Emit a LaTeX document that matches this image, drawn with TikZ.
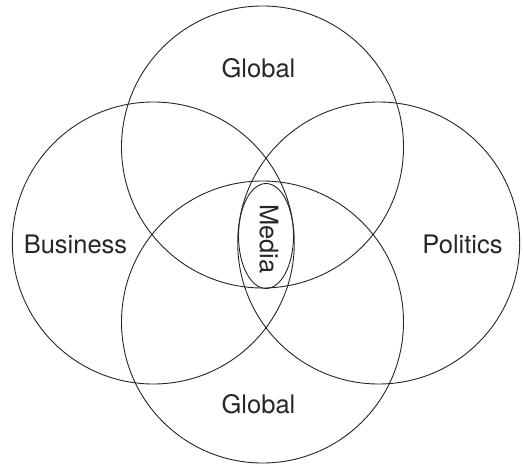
\documentclass[tikz,border=0pt]{standalone}
\usepackage{fontspec}
\setmainfont{TeX Gyre Heros}
\begin{document}
\begin{tikzpicture}[x=1pt,y=-1pt,
  ring/.style={draw=black!85,line width=0.9pt},
  lbl/.style={font=\fontsize{25.5}{28}\selectfont,text=black!85,inner sep=0pt}]
\useasboundingbox (0,0) rectangle (524,465);
\draw[ring] (262.5,147) circle[radius=141];
\draw[ring] (153.3,243) circle[radius=141];
\draw[ring] (378.7,243) circle[radius=141];
\draw[ring] (262.5,322) circle[radius=141];
\draw[ring] (266,236) ellipse[x radius=27.5,y radius=52.5];
\node[lbl] (gtop) at (258.5,68) {Global};
\node[lbl] (gbot) at (258.5,404) {Global};
\node[lbl] (bus) at (75.5,244) {Business};
\node[lbl] (pol) at (462.5,244) {Politics};
\node[lbl,rotate=-90] (media) at (269,239) {Media};
\end{tikzpicture}
\end{document}
